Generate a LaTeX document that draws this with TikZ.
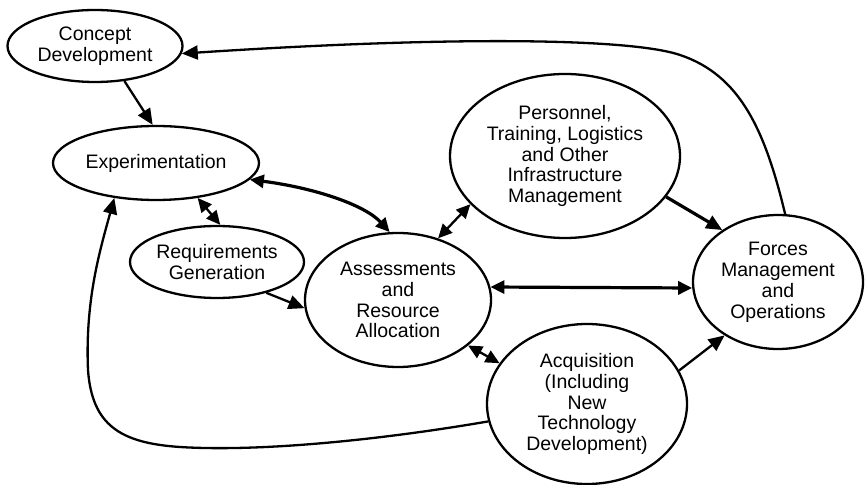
\documentclass[tikz,border=0pt]{standalone}
\usepackage{fontspec}
\setmainfont{Liberation Sans}
\usetikzlibrary{arrows.meta,shapes.geometric}

\begin{document}
\begin{tikzpicture}[
  x=0.5pt, y=-0.5pt,
  blob/.style={draw, ellipse, line width=1.15pt, inner sep=0pt, align=center,
               font=\fontsize{9.75}{10.45}\selectfont},
  arr/.style={-{Triangle[length=8pt,width=7pt]}, line width=1.15pt},
  darr/.style={{Triangle[length=7pt,width=6.5pt]}-{Triangle[length=7pt,width=6.5pt]},
               line width=1.15pt},
  heavy/.style={line width=1.6pt},
]
\useasboundingbox (0,0) rectangle (865,485);
\node[blob, minimum width=87.5pt, minimum height=36pt] (cd) at (95,46) {Concept\\Development};
\node[blob, minimum width=103pt, minimum height=37pt] (exp) at (156,163) {Experimentation};
\node[blob, minimum width=87pt, minimum height=36pt] (req) at (217,262) {Requirements\\Generation};
\node[blob, minimum width=93pt, minimum height=67pt] (assess) at (398,300)
  {Assessments\\and\\Resource\\Allocation};
\node[blob, minimum width=115pt, minimum height=82pt] (pers) at (565,156)
  {Personnel,\\Training, Logistics\\and Other\\Infrastructure\\Management};
\node[blob, minimum width=85pt, minimum height=67pt] (forces) at (778,282)
  {Forces\\Management\\and\\Operations};
\node[blob, minimum width=100pt, minimum height=80pt] (acq) at (587,404)
  {Acquisition\\(Including\\New\\Technology\\Development)};
\draw[arr] (cd.-50) -- (exp.95);
\draw[darr, heavy] (exp.-10) .. controls (315,188) and (365,205) .. (assess.97);
\draw[darr] (exp.-40) -- (req.85);
\draw[arr] (req.-32) -- (assess.185);
\draw[darr] (assess.57) -- (pers.207);
\draw[arr, heavy] (pers.-22) -- (forces.137);
\draw[darr, heavy] (assess.8) -- (forces.184);
\draw[darr] (assess.-33) -- (acq.155);
\draw[arr] (acq.20) -- (forces.225);
\draw[arr] (forces.84) .. controls (765,130) and (740,75) .. (680,55)
  .. controls (630,38) and (450,36) .. (cd.-5);
\draw[arr] (acq.190) .. controls (380,440) and (260,452) .. (180,447)
  .. controls (120,443) and (92,425) .. (88,370)
  .. controls (85,300) and (100,250) .. (exp.220);
\end{tikzpicture}
\end{document}
